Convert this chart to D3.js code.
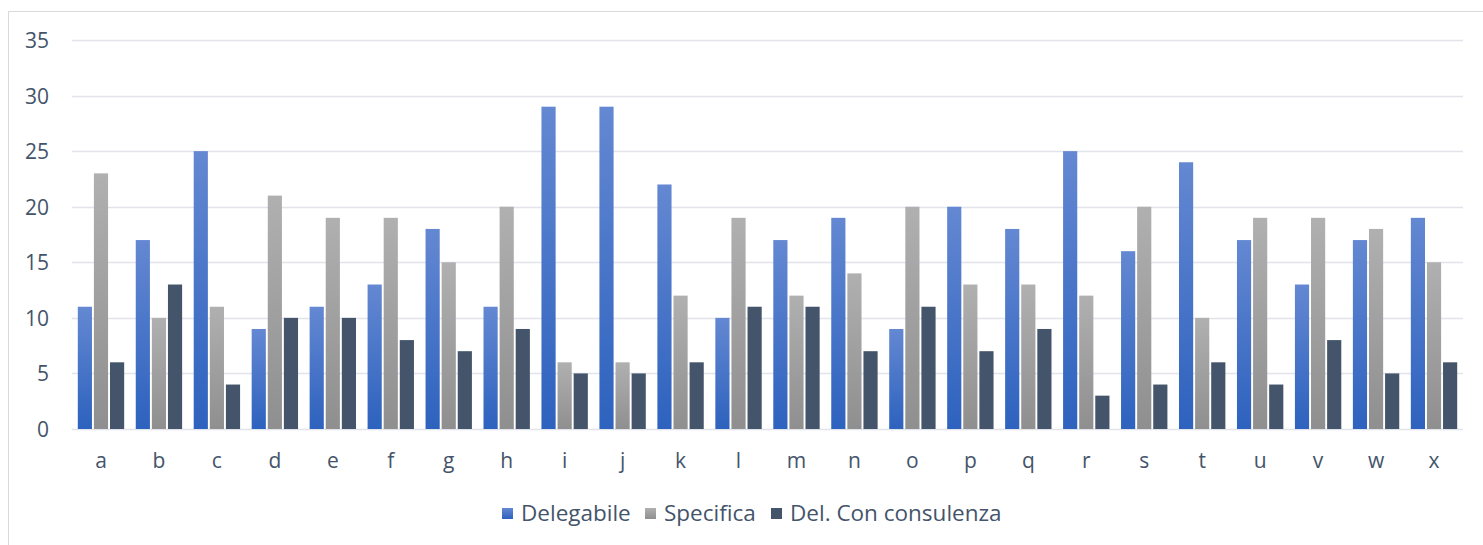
<!DOCTYPE html>
<html>
<head>
<meta charset="utf-8">
<script src="https://cdn.jsdelivr.net/npm/d3@7/dist/d3.min.js"></script>
<style>
  html, body { margin: 0; padding: 0; background: #fff; }
  svg { display: block; }
  text { font-family: "Open Sans", Lato, sans-serif; fill: #44546a; }
</style>
</head>
<body>
<svg id="chart" width="1483" height="545"></svg>
<script>
const categories = ["a","b","c","d","e","f","g","h","i","j","k","l","m","n","o","p","q","r","s","t","u","v","w","x"];
const seriesNames = ["Delegabile", "Specifica", "Del. Con consulenza"];
const delegabile = [11,17,25,9,11,13,18,11,29,29,22,10,17,19,9,20,18,25,16,24,17,13,17,19];
const specifica  = [23,10,11,21,19,19,15,20,6,6,12,19,12,14,20,13,13,12,20,10,19,19,18,15];
const consulenza = [6,13,4,10,10,8,7,9,5,5,6,11,11,7,11,7,9,3,4,6,4,8,5,6];
const yTicks = [0,5,10,15,20,25,30,35];

const seriesValues = [delegabile, specifica, consulenza];
const fills = ["url(#gBlue)", "url(#gGray)", "#44546a"];
const FONT = "'Open Sans', Lato, sans-serif";
const AXIS_SIZE = 21;
const LEGEND_SIZE = 22.5;

const svg = d3.select("#chart");

// Vertical gradients for the first two series
const defs = svg.append("defs");
function grad(id, c1, c2) {
  const g = defs.append("linearGradient").attr("id", id)
    .attr("x1", 0).attr("y1", 0).attr("x2", 0).attr("y2", 1);
  g.append("stop").attr("offset", "0%").attr("stop-color", c1);
  g.append("stop").attr("offset", "100%").attr("stop-color", c2);
}
grad("gBlue", "#6488d2", "#2d62be");
grad("gGray", "#b0b0b0", "#8f8f8f");

// Chart area frame
svg.append("rect").attr("x", 8.5).attr("y", 11.5).attr("width", 1600).attr("height", 700)
  .attr("fill", "none").attr("stroke", "#d9d9d9").attr("stroke-width", 1);

const plotLeft = 72, plotRight = 1463, plotTop = 40, plotBottom = 429;

const y = d3.scaleLinear().domain([0, 35]).range([plotBottom, plotTop]);
const x0 = d3.scaleBand().domain(categories).range([plotLeft, plotRight]).paddingInner(0.2).paddingOuter(0.1);
const x1 = d3.scaleBand().domain(d3.range(3)).range([0, x0.bandwidth()]).paddingInner(0.12);

// Gridlines
svg.append("g").selectAll("line").data(yTicks).join("line")
  .attr("x1", plotLeft).attr("x2", plotRight)
  .attr("y1", d => Math.round(y(d)) + 0.5).attr("y2", d => Math.round(y(d)) + 0.5)
  .attr("stroke", "#e1e4ea").attr("stroke-width", 1.5);

// Y axis labels
const yAxis = d3.axisLeft(y).tickValues(yTicks).tickSize(0).tickPadding(0);
const yg = svg.append("g").attr("transform", "translate(49,0)").call(yAxis);
yg.select(".domain").remove();
yg.selectAll("text").attr("font-size", AXIS_SIZE).style("font-family", FONT)
  .attr("fill", "#44546a").attr("dy", "0.36em");

// X axis labels
const xAxis = d3.axisBottom(x0).tickSize(0).tickPadding(0);
const xg = svg.append("g").attr("transform", `translate(0,${plotBottom})`).call(xAxis);
xg.select(".domain").remove();
xg.selectAll("text").attr("font-size", AXIS_SIZE).style("font-family", FONT)
  .attr("fill", "#44546a").attr("y", 39).attr("dy", 0);

// Bars
const groups = svg.append("g").selectAll("g").data(categories).join("g")
  .attr("transform", d => `translate(${x0(d)},0)`);
groups.selectAll("rect").data((d, i) => seriesValues.map((s, k) => ({ k, v: s[i] }))).join("rect")
  .attr("x", d => x1(d.k))
  .attr("width", x1.bandwidth())
  .attr("y", d => y(d.v))
  .attr("height", d => y(0) - y(d.v))
  .attr("fill", d => fills[d.k]);

// Legend
const legendX = [502, 645, 771];
const legend = svg.append("g").selectAll("g").data(seriesNames).join("g")
  .attr("transform", (d, i) => `translate(${legendX[i]},508)`);
legend.append("rect").attr("width", 11).attr("height", 11).attr("fill", (d, i) => fills[i]);
legend.append("text").attr("x", 19).attr("y", 12.5)
  .attr("font-size", LEGEND_SIZE).style("font-family", FONT).text(d => d);
</script>
</body>
</html>
